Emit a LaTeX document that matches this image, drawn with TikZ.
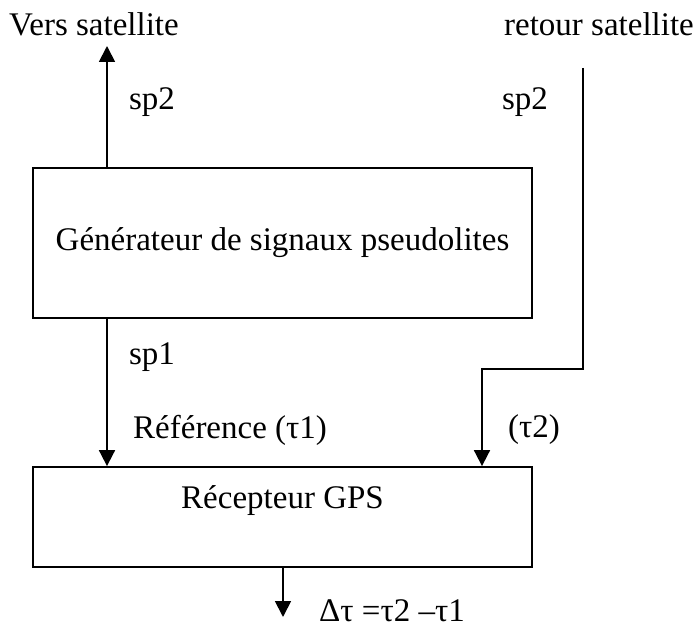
\documentclass[tikz,border=0pt]{standalone}
\usepackage{fontspec}
\setmainfont{Liberation Serif}
\usetikzlibrary{arrows.meta}
\tikzstyle{every node}=[font=\fontsize{33}{40}\selectfont,inner sep=0pt]
\tikzstyle{bloc}=[draw=black,line width=1.8pt,rectangle]
\tikzstyle{fleche}=[draw=black,line width=1.8pt,-{Triangle[width=16pt,length=16pt]}]
\tikzstyle{lien}=[draw=black,line width=1.8pt]

\begin{document}
\begin{tikzpicture}[x=1pt,y=-1pt]
	\useasboundingbox (0,0) rectangle (696,628);

	% blocs
	\node [bloc,minimum width=499pt,minimum height=150pt] (gen) at (282.5,243) {G\'en\'erateur de signaux pseudolites};
	\node [bloc,minimum width=499pt,minimum height=100pt] (rec) at (282.5,517) {};
	\node (titrerec) at (282.5,501) {R\'ecepteur GPS};

	% textes
	\node (vers) at (94,24) {Vers satellite};
	\node [anchor=east] (retour) at (694,24) {retour satellite};
	\node (sp2a) at (152,102) {sp2};
	\node (sp2b) at (525,102) {sp2};
	\node (sp1) at (152,357) {sp1};
	\node [anchor=west] (ref) at (133,430) {R\'ef\'erence (τ1)};
	\node (t2) at (534,430) {(τ2)};
	\node [anchor=west] (delta) at (319,611) {Δτ =τ2 –τ1};

	% liaisons
	\coordinate (vs) at (107,46);
	\coordinate (rs) at (583,68);
	\coordinate (coude) at (482,369);
	\coordinate (sortie) at (283,617);
	\draw [fleche] (vs |- gen.north) -- (vs);
	\draw [fleche] (vs |- gen.south) -- (vs |- rec.north);
	\draw [fleche] (rs) |- (coude) -- (coude |- rec.north);
	\draw [fleche] (sortie |- rec.south) -- (sortie);
\end{tikzpicture}
\end{document}
